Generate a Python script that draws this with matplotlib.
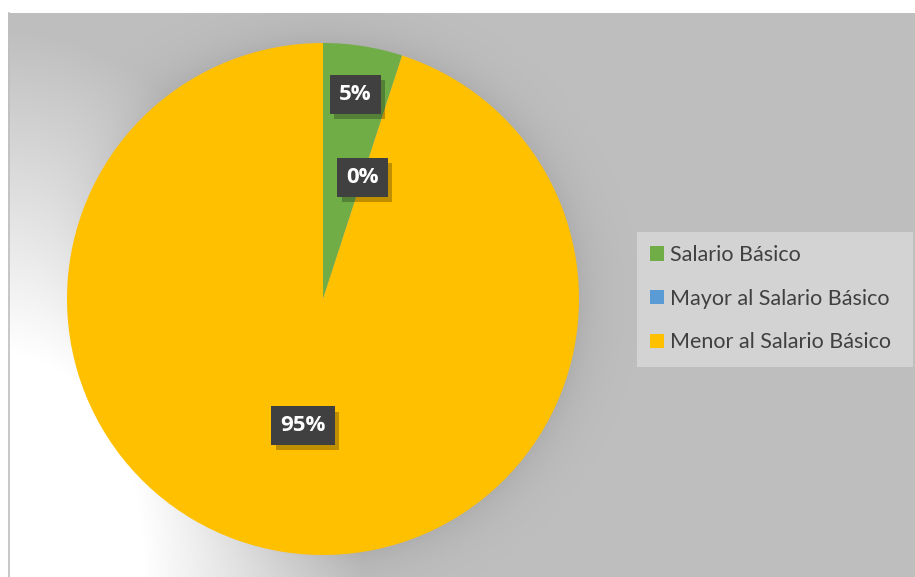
import matplotlib.pyplot as plt
import matplotlib.patheffects as pe
from matplotlib.patches import Patch, Rectangle
import numpy as np

categorias = ['Salario Básico', 'Mayor al Salario Básico', 'Menor al Salario Básico']
valores = [5, 0, 95]
colores = ['#70AD47', '#5B9BD5', '#FFC000']

W, H = 915, 577
cx, cy, R = 323, 299, 256   # centro y radio del pastel (pixeles, y hacia abajo)

# fondo gris con brillo blanco abajo a la izquierda y sombra alrededor del pastel
yy, xx = np.mgrid[0:H, 0:W]
base = 0.749
d_glow = np.hypot(xx / 1.1, (yy - 560) / 1.6)
w = np.clip((330 - d_glow) / 200, 0, 1)
val = base + (1 - base) * w
d_pie = np.hypot(xx - cx, yy - cy)
sombra = 0.06 * np.exp(-np.clip(d_pie - R, 0, None) / 22) * (1 - w)
val = val - sombra
val[:13, :] = 1.0
val[:, :8] = 1.0
bg = np.dstack([val, val, val])

fig = plt.figure(figsize=(9.15, 5.77), dpi=100)
ax = fig.add_axes([0, 0, 1, 1])
ax.imshow(bg, extent=(0, W, 0, H), origin='upper', zorder=0, interpolation='bilinear')
ax.plot([8.5, 8.5], [0, H - 13], color='#BFBFBF', lw=1.2, zorder=1)

wedges, _ = ax.pie(valores, colors=colores, startangle=90, counterclock=False,
                   center=(cx, H - cy), radius=R, wedgeprops=dict(linewidth=0))
for wd in wedges:
    wd.set_zorder(2)

# etiquetas de porcentaje
total = sum(valores)
distancias = [0.81, 0.5, 0.5]
for wd, v, dist in zip(wedges, valores, distancias):
    ang = np.deg2rad((wd.theta1 + wd.theta2) / 2)
    x = cx + dist * R * np.cos(ang)
    y = (H - cy) + dist * R * np.sin(ang)
    t = ax.text(x, y, f'{round(100 * v / total)}%', ha='center', va='center',
                color='white', fontsize=16, fontweight='bold', family='Open Sans',
                zorder=5,
                bbox=dict(boxstyle='square,pad=0.4', fc='#404040', ec='none'))
    t.get_bbox_patch().set_path_effects([
        pe.SimplePatchShadow(offset=(3, -4), shadow_rgbFace='black', alpha=0.25),
        pe.Normal()])

ax.set_xlim(0, W)
ax.set_ylim(0, H)
ax.axis('off')

# leyenda sobre un recuadro gris claro
ax.add_patch(Rectangle((637, H - 367), 276, 135, fc='#D3D3D3', ec='none', zorder=5))
handles = [Patch(facecolor=c, edgecolor='none') for c in colores]
leg = ax.legend(handles, categorias, loc='upper left', bbox_to_anchor=(650 / W, 1 - 245 / H),
                frameon=False, borderaxespad=0, borderpad=0,
                handlelength=0.65, handleheight=0.65, handletextpad=0.3,
                labelspacing=1.1, prop=dict(family='Lato', size=15.5),
                labelcolor='#404040')
leg.set_zorder(6)

fig.savefig('out.png', dpi=100)
